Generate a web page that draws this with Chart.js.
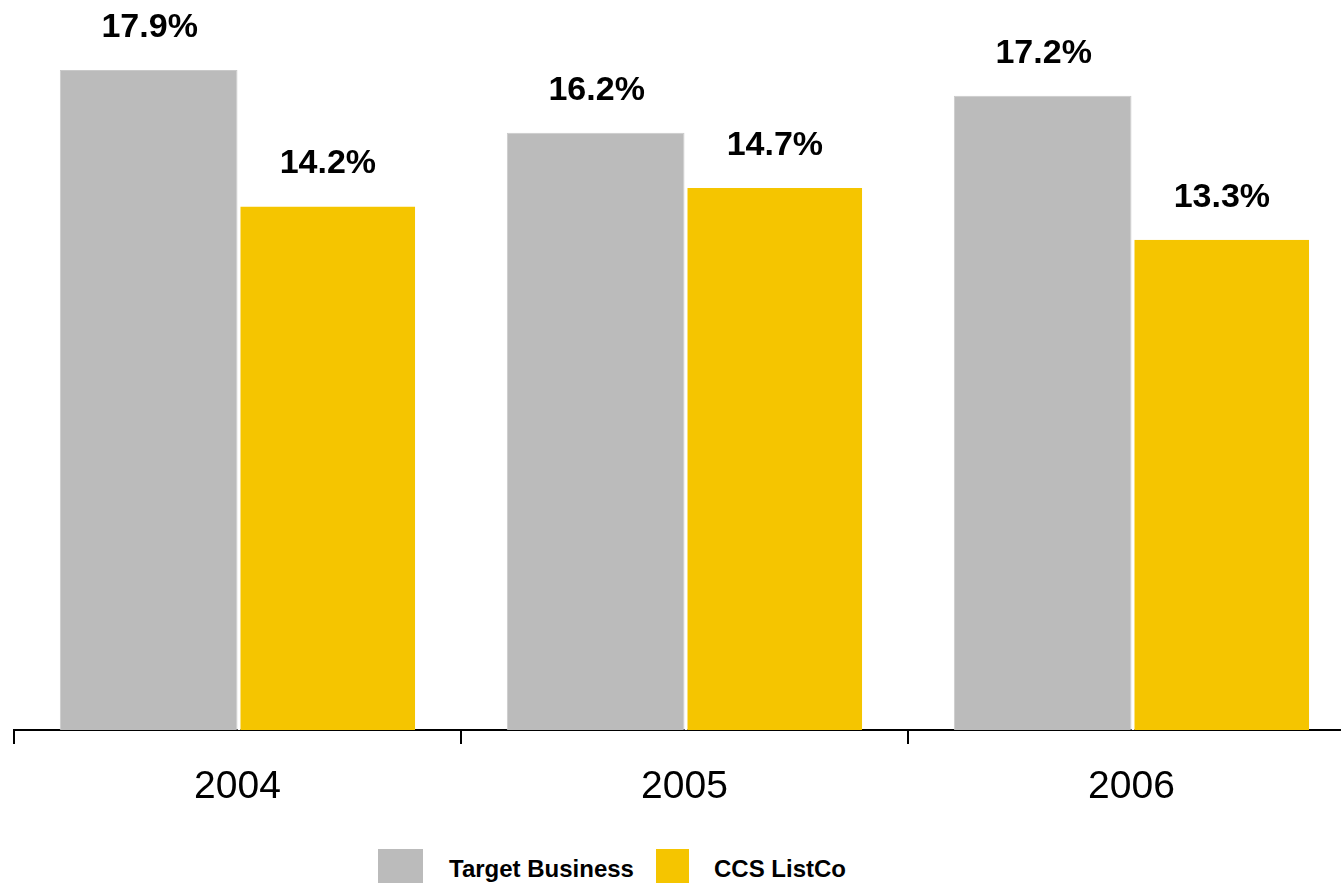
<!DOCTYPE html>
<html>
<head>
<meta charset="utf-8">
<script src="https://cdn.jsdelivr.net/npm/chart.js@4/dist/chart.umd.min.js"></script>
<style>
  html, body { margin: 0; padding: 0; background: #fff; overflow: hidden; }
  #wrap { position: relative; width: 1341px; height: 885px; overflow: hidden; }
  #chart { position: absolute; left: 0; top: 0; }
  .legend-box { position: absolute; top: 849px; height: 34px; }
  .legend-text {
    position: absolute; top: 855px; line-height: 24px;
    font: bold 24px "Liberation Sans", Arial, sans-serif; color: #000; white-space: nowrap;
  }
</style>
</head>
<body>
<div id="wrap">
  <canvas id="chart" width="1370" height="830"></canvas>
  <div id="legend"></div>
</div>
<script>
// Chart data
const years = ["2004", "2005", "2006"]
const targetBusiness = [17.9, 16.2, 17.2]
const ccsListCo = [14.2, 14.7, 13.3]
const seriesNames = ["Target Business", "CCS ListCo"]

const GRAY = "#bbbbbb"
const YELLOW = "#f5c500"

/**
 * Draws the bold percentage labels above each bar
 */
const valueLabels = {
  id: "valueLabels",
  afterDatasetsDraw(chart) {
    const ctx = chart.ctx
    ctx.save()
    ctx.font = "bold 34px 'Liberation Sans', Arial, sans-serif"
    ctx.fillStyle = "#000"
    ctx.textAlign = "center"
    ctx.textBaseline = "alphabetic"
    chart.data.datasets.forEach((ds, i) => {
      const meta = chart.getDatasetMeta(i)
      meta.data.forEach((bar, j) => {
        const x = i === 1 ? bar.x + 1.5 : bar.x + 1
        ctx.fillText(ds.data[j].toFixed(1) + "%", x, bar.y - 33)
      })
    })
    ctx.restore()
  },
}

const chart = new Chart(document.getElementById("chart"), {
  type: "bar",
  data: {
    labels: years,
    datasets: [
      {
        label: seriesNames[0],
        data: targetBusiness,
        backgroundColor: GRAY,
        borderColor: "#c9c9c9",
        borderWidth: { left: 1, top: 1, right: 1, bottom: 0 },
        categoryPercentage: 0.795,
        barPercentage: 1.0,
      },
      {
        label: seriesNames[1],
        data: ccsListCo,
        backgroundColor: YELLOW,
        borderColor: "#ffffff",
        borderWidth: { left: 3, top: 0, right: 0, bottom: 0 },
        categoryPercentage: 0.795,
        barPercentage: 1.0,
      },
    ],
  },
  options: {
    responsive: false,
    animation: false,
    layout: { padding: { left: 14, right: 15, top: 0, bottom: 0 } },
    plugins: {
      legend: { display: false },
      tooltip: { enabled: false },
    },
    scales: {
      x: {
        afterFit: (scale) => { scale.height = 100 },
        grid: {
          offset: true,
          drawOnChartArea: false,
          drawTicks: true,
          tickLength: 14,
          color: "#000",
          lineWidth: 2,
        },
        border: { display: true, color: "#000", width: 2 },
        ticks: {
          color: "#000",
          padding: 20,
          font: { family: "'Liberation Sans', Arial, sans-serif", size: 39 },
        },
      },
      y: {
        display: false,
        min: 0,
        max: 19.8,
      },
    },
  },
  plugins: [valueLabels],
})

// HTML legend under the chart
const legendItems = [
  { name: seriesNames[0], color: GRAY, boxLeft: 378, boxWidth: 45, textLeft: 449 },
  { name: seriesNames[1], color: YELLOW, boxLeft: 656, boxWidth: 33, textLeft: 714 },
]
const legend = document.getElementById("legend")
legendItems.forEach((item) => {
  const box = document.createElement("div")
  box.className = "legend-box"
  box.style.left = item.boxLeft + "px"
  box.style.width = item.boxWidth + "px"
  box.style.background = item.color
  legend.appendChild(box)

  const text = document.createElement("div")
  text.className = "legend-text"
  text.style.left = item.textLeft + "px"
  text.textContent = item.name
  legend.appendChild(text)
})
</script>
</body>
</html>
